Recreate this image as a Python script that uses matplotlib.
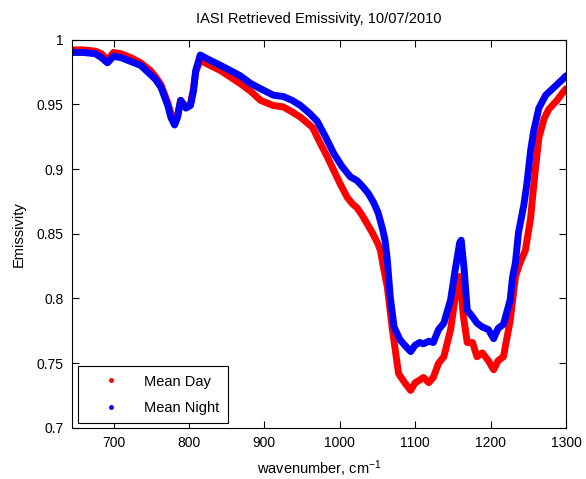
import numpy as np
import matplotlib
matplotlib.use('Agg')
import matplotlib.pyplot as plt
from matplotlib.lines import Line2D

plt.rcParams['font.family'] = ['Liberation Sans', 'DejaVu Sans']
plt.rcParams['mathtext.default'] = 'regular'

# mean night emissivity (blue)
night_wn = [645, 660, 676, 684, 692, 700, 710, 723, 736, 749, 756, 763, 772, 776,
            781, 785, 789, 796, 802, 806, 809, 815, 828, 842, 855, 868, 882, 895,
            912, 925, 937, 948, 960, 970, 981, 992, 1003, 1014, 1023, 1031, 1038,
            1045, 1051, 1057, 1060, 1063, 1067, 1072, 1080, 1086, 1094, 1100, 1106,
            1111, 1118, 1124, 1131, 1138, 1147, 1153, 1159, 1161, 1165, 1169, 1176,
            1182, 1189, 1197, 1204, 1210, 1217, 1226, 1229, 1233, 1237, 1244, 1248,
            1253, 1257, 1264, 1273, 1284, 1295, 1300]
night_em = [0.990, 0.990, 0.989, 0.986, 0.982, 0.987, 0.986, 0.983, 0.980, 0.973,
            0.969, 0.963, 0.949, 0.940, 0.934, 0.940, 0.953, 0.947, 0.949, 0.960,
            0.976, 0.988, 0.984, 0.980, 0.976, 0.972, 0.966, 0.962, 0.957, 0.956,
            0.953, 0.949, 0.943, 0.937, 0.925, 0.912, 0.902, 0.894, 0.891, 0.886,
            0.881, 0.874, 0.866, 0.853, 0.845, 0.830, 0.801, 0.778, 0.768, 0.764,
            0.759, 0.764, 0.766, 0.765, 0.767, 0.766, 0.776, 0.781, 0.799, 0.822,
            0.843, 0.845, 0.822, 0.791, 0.786, 0.781, 0.778, 0.776, 0.769, 0.777,
            0.780, 0.799, 0.816, 0.828, 0.851, 0.872, 0.888, 0.914, 0.929, 0.947,
            0.957, 0.963, 0.969, 0.972]

# mean day emissivity (red)
day_wn = [645, 660, 676, 684, 692, 700, 710, 723, 736, 749, 756, 763, 772, 776,
          781, 785, 789, 796, 802, 806, 809, 815, 828, 842, 855, 868, 882, 895,
          912, 925, 937, 948, 964, 974, 983, 992, 1001, 1010, 1017, 1023, 1030,
          1036, 1043, 1050, 1054, 1058, 1063, 1070, 1078, 1086, 1094, 1100, 1106,
          1111, 1118, 1124, 1131, 1138, 1147, 1153, 1159, 1164, 1169, 1176, 1182,
          1189, 1197, 1204, 1210, 1217, 1226, 1233, 1238, 1246, 1253, 1259, 1264,
          1271, 1277, 1288, 1297, 1300]
day_em = [0.992, 0.992, 0.991, 0.989, 0.984, 0.990, 0.989, 0.986, 0.982, 0.976,
          0.971, 0.965, 0.951, 0.943, 0.937, 0.942, 0.953, 0.948, 0.950, 0.962,
          0.975, 0.984, 0.980, 0.976, 0.971, 0.966, 0.960, 0.953, 0.949, 0.948,
          0.944, 0.940, 0.932, 0.920, 0.910, 0.899, 0.888, 0.878, 0.873, 0.870,
          0.864, 0.858, 0.851, 0.843, 0.837, 0.824, 0.809, 0.775, 0.742, 0.735,
          0.729, 0.735, 0.737, 0.739, 0.735, 0.739, 0.750, 0.755, 0.776, 0.801,
          0.817, 0.786, 0.766, 0.766, 0.755, 0.758, 0.752, 0.745, 0.752, 0.755,
          0.783, 0.817, 0.826, 0.837, 0.862, 0.898, 0.924, 0.939, 0.946, 0.953,
          0.960, 0.962]

xticks = [700, 800, 900, 1000, 1100, 1200, 1300]
yticks = [0.7, 0.75, 0.8, 0.85, 0.9, 0.95, 1.0]
ytick_labels = ['0.7', '0.75', '0.8', '0.85', '0.9', '0.95', '1']

#=============================================================================#
fig = plt.figure(figsize=(5.86, 4.79), dpi=100)
ax = fig.add_axes([0.1229, 0.1065, 0.843, 0.811])

ax.plot(day_wn, day_em, color='red', lw=5, solid_joinstyle='round',
        solid_capstyle='round')
ax.plot(night_wn, night_em, color='blue', lw=5, solid_joinstyle='round',
        solid_capstyle='round')

ax.set_xlim(645, 1300)
ax.set_ylim(0.7, 1.0)
ax.set_xticks(xticks)
ax.set_yticks(yticks)
ax.set_yticklabels(ytick_labels)
ax.tick_params(direction='in', top=True, right=True, length=5, width=0.8,
               labelsize=10, pad=6)
for s in ax.spines.values():
    s.set_linewidth(0.8)

ax.set_title('IASI Retrieved Emissivity, 10/07/2010', fontsize=10.5, pad=12)
ax.set_xlabel('wavenumber, cm$^{-1}$', fontsize=10.5, labelpad=6)
ax.set_ylabel('Emissivity', fontsize=10.5, labelpad=8)

handles = [Line2D([], [], color='red', marker='.', ls='none', markersize=5),
           Line2D([], [], color='blue', marker='.', ls='none', markersize=5)]
leg = ax.legend(handles, ['Mean Day', 'Mean Night'], loc='lower left',
                bbox_to_anchor=(0.012, 0.013), borderaxespad=0, fontsize=10.5,
                fancybox=False, edgecolor='black', framealpha=1,
                handlelength=3.4, handletextpad=0.6, borderpad=0.55,
                labelspacing=0.85)
leg.get_frame().set_linewidth(0.8)

fig.savefig('out.png', dpi=100)
